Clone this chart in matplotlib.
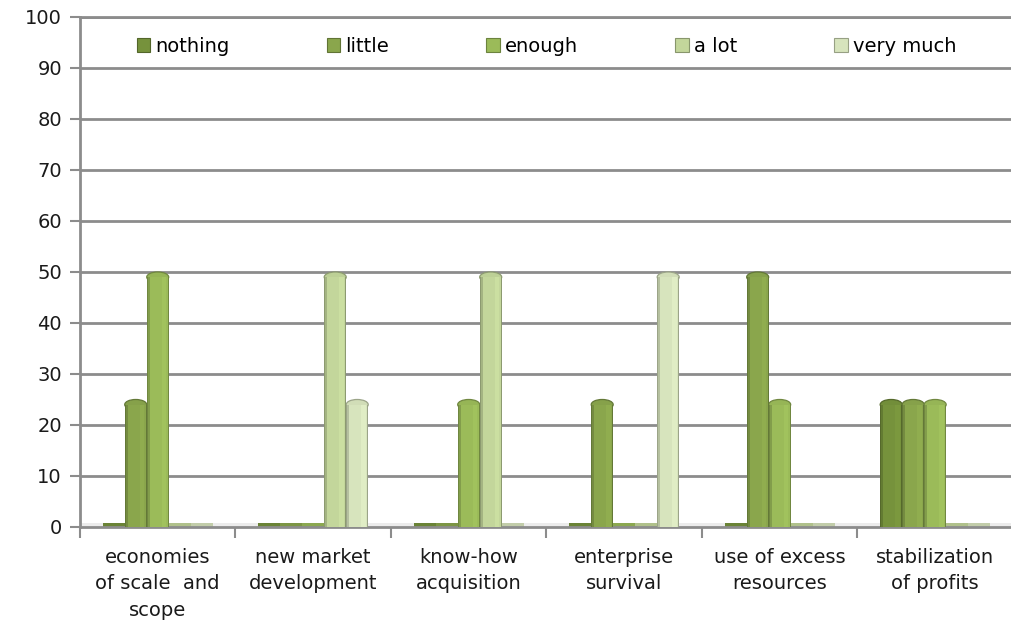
import numpy as np
import matplotlib
matplotlib.use("Agg")
import matplotlib.pyplot as plt
from matplotlib.patches import Rectangle, Ellipse
from matplotlib.colors import to_rgb

# Categories and answers (% of respondents)
categories = ["economies\nof scale  and\nscope", "new market\ndevelopment", "know-how\nacquisition",
              "enterprise\nsurvival", "use of excess\nresources", "stabilization\nof profits"]
series = ["nothing", "little", "enough", "a lot", "very much"]
nothing = [0, 0, 0, 0, 0, 25]
little = [25, 0, 0, 25, 50, 25]
enough = [50, 0, 25, 0, 25, 25]
a_lot = [0, 50, 50, 0, 0, 0]
very_much = [0, 25, 0, 50, 0, 0]
values = [nothing, little, enough, a_lot, very_much]
colors = ["#76923c", "#8aa64c", "#9bbb59", "#c3d69b", "#d7e4bd"]

grey = "#8c8c8c"


def shade(c, f):
    r, g, b = to_rgb(c)
    return tuple(min(1, x * f) for x in (r, g, b))


fig = plt.figure(figsize=(10.11, 6.34), dpi=100)
ax = fig.add_axes([0.0791, 0.1688, 0.9228, 0.8044])
ax.set_xlim(0, 6)
ax.set_ylim(0, 100)

bar_w = 0.1415
start = 0.5 - 2.5 * bar_w
floor = 0.8
cap = 1.0   # height of the rounded top, in data units
edge_w = 0.006

# floor slab
ax.add_patch(Rectangle((0, 0), 6, floor, facecolor="#ececec", edgecolor="none", zorder=1))

for s, (vals, col) in enumerate(zip(values, colors)):
    dark = shade(col, 0.72)
    for i, v in enumerate(vals):
        x0 = i + start + s * bar_w
        if v <= 0:
            # empty answer: flat disc lying on the floor
            ax.add_patch(Rectangle((x0, 0), bar_w, floor * 0.9, facecolor=shade(col, 0.9),
                                   edgecolor="none", zorder=2))
            continue
        top = v - cap
        # rounded top, lower half hidden by the body
        ax.add_patch(Ellipse((x0 + bar_w / 2, top), bar_w, 2 * cap, facecolor=shade(col, 0.97),
                             edgecolor=dark, lw=0.9, zorder=2.9))
        # cylinder body
        ax.add_patch(Rectangle((x0, 0), bar_w, top, facecolor=col, edgecolor="none", zorder=3))
        # darker left side and lighter right side
        ax.add_patch(Rectangle((x0, 0), bar_w * 0.14, top, facecolor=shade(col, 0.84),
                               edgecolor="none", zorder=3.1))
        ax.add_patch(Rectangle((x0 + bar_w * 0.68, 0), bar_w * 0.2, top,
                               facecolor=shade(col, 1.04), edgecolor="none", zorder=3.1))
        # outline of the sides
        for xe in (x0, x0 + bar_w - edge_w):
            ax.add_patch(Rectangle((xe, 0), edge_w, top, facecolor=dark,
                                   edgecolor="none", zorder=3.2))

# axes styling
ax.set_yticks(np.arange(0, 101, 10))
ax.yaxis.grid(True, color=grey, lw=2)
ax.set_axisbelow(True)
for side in ["left", "bottom", "top"]:
    ax.spines[side].set_color(grey)
    ax.spines[side].set_linewidth(2)
ax.spines["right"].set_visible(False)
ax.tick_params(axis="y", direction="out", length=7, width=1.5, color=grey,
               labelsize=14, pad=6, labelcolor="#1a1a1a")

ax.set_xticks(np.arange(6) + 0.5)
ax.set_xticklabels(categories, fontsize=14, linespacing=1.5, color="#1a1a1a")
ax.set_xticks(np.arange(7), minor=True)
ax.tick_params(axis="x", which="major", length=0, pad=15)
ax.tick_params(axis="x", which="minor", direction="out", length=8, width=1.5, color=grey)

handles = [Rectangle((0, 0), 1, 1, facecolor=c, edgecolor=shade(c, 0.7), lw=0.8) for c in colors]
ax.legend(handles, series, loc="upper center", bbox_to_anchor=(0.5, 0.995), ncol=5,
          frameon=False, fontsize=14, handlelength=0.7, handleheight=0.7,
          handletextpad=0.25, columnspacing=5.0)

fig.savefig("out.png", dpi=100)
